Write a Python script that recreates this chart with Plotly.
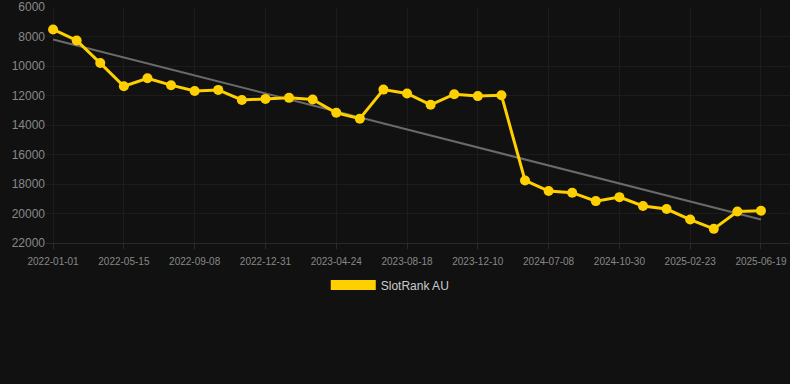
import numpy as np
import plotly.graph_objects as go

dates = [
    "2022-01-01", "2022-02-15", "2022-03-31",
    "2022-05-15", "2022-06-23", "2022-08-01",
    "2022-09-08", "2022-10-16", "2022-11-23",
    "2022-12-31", "2023-02-07", "2023-03-17",
    "2023-04-24", "2023-06-01", "2023-07-10",
    "2023-08-18", "2023-09-25", "2023-11-02",
    "2023-12-10", "2024-01-17", "2024-05-31",
    "2024-07-08", "2024-08-15", "2024-09-22",
    "2024-10-30", "2024-12-08", "2025-01-15",
    "2025-02-23", "2025-04-02", "2025-05-11",
    "2025-06-19",
]
ranks = [
    7520, 8270, 9800, 11370, 10830, 11300, 11690, 11620, 12300, 12230,
    12160, 12270, 13170, 13570, 11600, 11860, 12630, 11910, 12040, 11980,
    17760, 18480, 18590, 19160, 18890, 19490, 19700, 20410, 21040, 19870,
    19810,
]
tick_labels = dates[::3]
y_ticks = [6000, 8000, 10000, 12000, 14000, 16000, 18000, 20000, 22000]
series_name = "SlotRank AU"

idx = np.arange(len(ranks))
slope, intercept = np.polyfit(idx, ranks, 1)
trend = slope * idx + intercept

gold = "#FFD000"
fig = go.Figure()
fig.add_trace(go.Scatter(
    x=dates, y=trend, mode="lines",
    line=dict(color="#6a6a6a", width=2),
    showlegend=False, hoverinfo="skip",
))
fig.add_trace(go.Scatter(
    x=dates, y=ranks, mode="lines+markers", name=series_name,
    line=dict(color=gold, width=3),
    marker=dict(size=10, color=gold),
    showlegend=False, legendgroup="s",
))
# legend entry (box-like swatch)
fig.add_trace(go.Scatter(
    x=[None], y=[None], mode="lines", name=series_name,
    line=dict(color=gold, width=12), legendgroup="s",
))

n = len(dates)
fig.update_layout(
    width=790, height=384,
    margin=dict(l=46, r=0, t=7, b=141),
    paper_bgcolor="#111111", plot_bgcolor="#111111",
    font=dict(family="Liberation Sans, Arial, sans-serif", color="#999999", size=11),
    showlegend=True,
    legend=dict(
        orientation="h", xref="container", yref="container",
        x=0.494, xanchor="center", y=0.258, yanchor="middle",
        font=dict(size=12, color="#cccccc"), itemwidth=45,
        bgcolor="rgba(0,0,0,0)",
    ),
    xaxis=dict(
        type="category", categoryorder="array", categoryarray=dates,
        tickvals=tick_labels, ticktext=tick_labels,
        range=[-0.3, n - 1 + 1.23],
        showgrid=True, gridcolor="#1c1c1c", gridwidth=1,
        ticks="outside", ticklen=5, tickcolor="#2a2a2a",
        ticklabelstandoff=4,
        tickfont=dict(size=10, color="#888888"),
        showline=True, linecolor="#2a2a2a", linewidth=1, zeroline=False,
    ),
    yaxis=dict(
        range=[22000, 6000],
        tickvals=y_ticks, tickformat="d",
        showgrid=True, gridcolor="#1c1c1c", gridwidth=1,
        ticks="", tickfont=dict(size=12, color="#888888"),
        showline=False, zeroline=False,
    ),
)

fig.write_html(
    "out.html",
    config={"displayModeBar": False},
    post_script="document.body.style.margin='0';document.body.style.overflow='hidden';document.body.style.background='#111111';",
)
